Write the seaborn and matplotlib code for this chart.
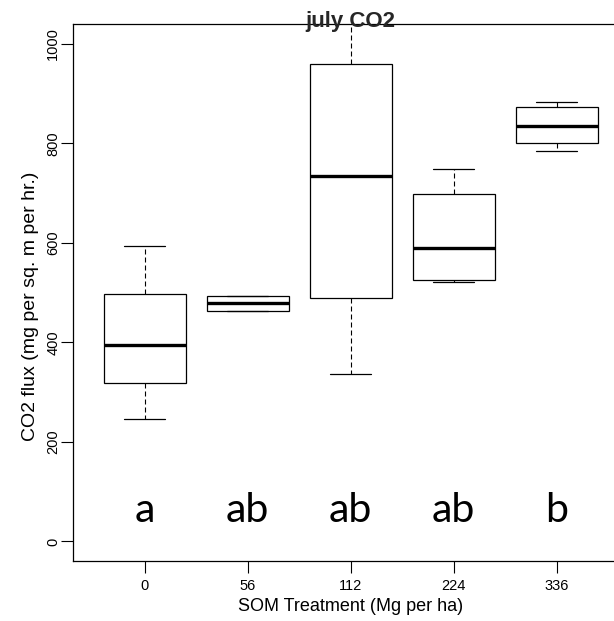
import numpy as np
import pandas as pd
import matplotlib
matplotlib.use("Agg")
import matplotlib.pyplot as plt
import seaborn as sns

# Treatment categories (x-axis tick labels)
treatments = ["0", "56", "112", "224", "336"]

# Five-number summaries: low whisker, Q1, median, Q3, high whisker
flux_0 = [246, 318, 394, 497, 594]
flux_56 = [464, 464, 480, 493, 493]
flux_112 = [336, 490, 735, 959, 1100]
flux_224 = [521, 525, 589, 698, 749]
flux_336 = [785, 800, 834, 873, 884]

# Significance letters
letters = ["a", "ab", "ab", "ab", "b"]

yticks = [0, 200, 400, 600, 800, 1000]

groups = [flux_0, flux_56, flux_112, flux_224, flux_336]
df = pd.DataFrame({
    "treatment": np.repeat(treatments, [len(g) for g in groups]),
    "flux": np.concatenate(groups),
})

sns.set_theme(style="white")
plt.rcParams["font.family"] = ["Liberation Sans", "DejaVu Sans"]

fig = plt.figure(figsize=(6.14, 6.21), dpi=100)
ax = fig.add_axes([72.7 / 614, 59.7 / 621, 556.1 / 614, 537.3 / 621])

sns.boxplot(
    data=df, x="treatment", y="flux", order=treatments, ax=ax,
    color="white", linecolor="black", linewidth=0.9, width=0.8, whis=1.5,
    showfliers=False,
    boxprops=dict(edgecolor="black", facecolor="white", linewidth=0.9),
    medianprops=dict(color="black", linewidth=2.4),
    whiskerprops=dict(color="black", linewidth=0.8, linestyle=(0, (4.5, 2.7))),
    capprops=dict(color="black", linewidth=0.9),
)

ax.set_xlim(-0.7, 4.7)
ax.set_ylim(-40, 1040)
ax.set_yticks(yticks)
ax.set_yticklabels([str(v) for v in yticks])

for spine in ax.spines.values():
    spine.set_visible(True)
    spine.set_color("black")
    spine.set_linewidth(0.9)

ax.tick_params(axis="both", which="major", direction="out", length=8.5, width=0.8,
               color="black", labelsize=10.5, labelcolor="black",
               bottom=True, left=True)
ax.tick_params(axis="y", labelrotation=90, pad=0.5)
ax.tick_params(axis="x", pad=4)
for lab in ax.get_yticklabels():
    lab.set_va("center")

ax.set_xlabel("SOM Treatment (Mg per ha)", fontsize=13, color="black")
ax.set_ylabel("CO2 flux (mg per sq. m per hr.)", fontsize=14, color="black")
ax.xaxis.set_label_coords(0.5, (561.3 - 598) / 537.3)
ax.yaxis.set_label_coords((39 - 72.7) / 556.1, (561.3 - 306) / 537.3)

ax.set_title("july CO2", fontsize=16, fontweight="bold", y=0.994, pad=0)

for i, lab in enumerate(letters):
    ax.text(i, 40, lab, ha="center", va="baseline", fontsize=29.5,
            family=["Lato", "DejaVu Sans"], color="black")

fig.savefig("out.png", dpi=100)
